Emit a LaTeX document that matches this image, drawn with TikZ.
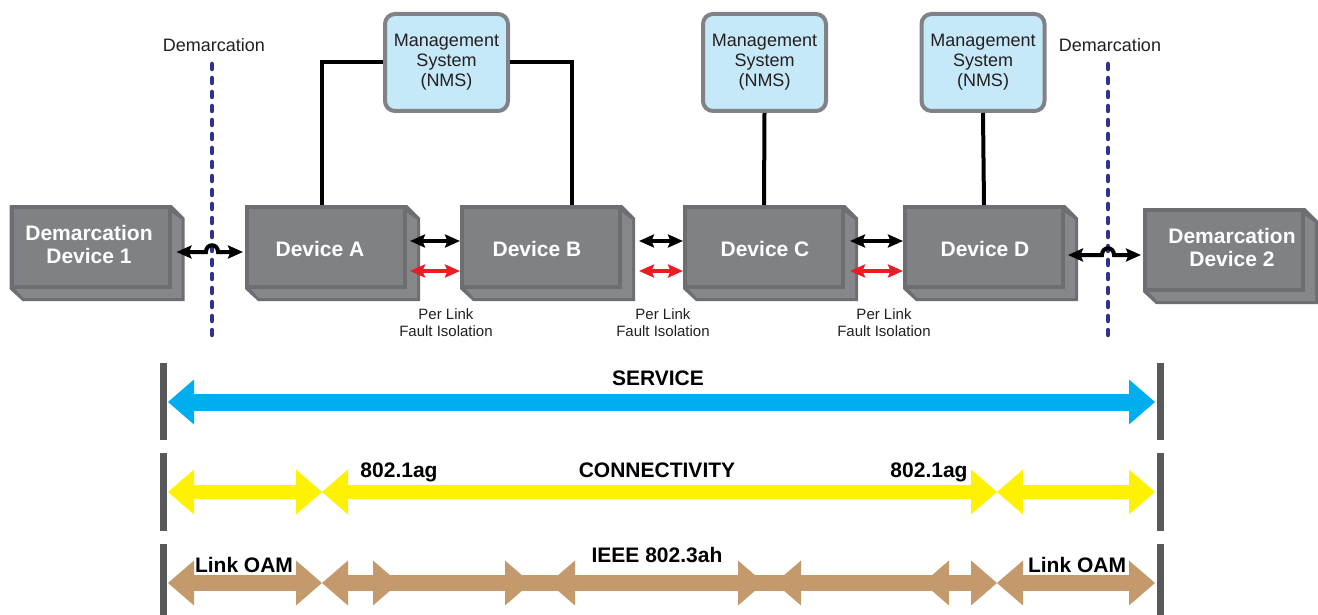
\documentclass[tikz,border=0pt]{standalone}
\usepackage{fontspec}
\setmainfont{Liberation Sans}
\usetikzlibrary{arrows.meta}
\definecolor{devedge}{HTML}{6D6E71}
\definecolor{devfill}{HTML}{808184}
\definecolor{devside}{HTML}{86878A}
\definecolor{nmsfill}{HTML}{C6E9F9}
\definecolor{nmsedge}{HTML}{808285}
\definecolor{demblue}{HTML}{2E3192}
\definecolor{arrred}{HTML}{ED1C24}
\definecolor{svcblue}{HTML}{00AEEF}
\definecolor{conyellow}{HTML}{FFF200}
\definecolor{oambrown}{HTML}{C49A6C}
\definecolor{bargray}{HTML}{58595B}
\definecolor{txtc}{HTML}{231F20}

\newcommand\devbox[2]{%
  \fill[devedge,shift={#2}] (-81,-42) -- (81,-42) -- (94,-29) -- (94,54) -- (-68,54) -- (-81,42) -- cycle;
  \fill[devside,shift={#2}] (79,-36) -- (91,-27) -- (91,51) -- (-67,51) -- (-77,40) -- (79,40) -- cycle;
  \node[devfront] (#1) at #2 {};}
\newcommand\fatheadL[3]{\fill[#3] (#1,#2) -- ++(26,-22.5) -- ++(0,45) -- cycle;}
\newcommand\fatheadR[3]{\fill[#3] (#1,#2) -- ++(-26,-22.5) -- ++(0,45) -- cycle;}
\newcommand\fatshaft[5]{\fill[#5] (#1,{#3-#4}) rectangle (#2,{#3+#4});}

\begin{document}
\begin{tikzpicture}[x=1pt,y=-1pt,
  devfront/.style={draw=devedge,line width=4pt,fill=devfill,minimum width=158pt,minimum height=80pt,inner sep=0pt},
  devlabel/.style={font=\fontsize{21}{23}\selectfont\bfseries,text=white,align=center,inner sep=0pt},
  nmsbox/.style={draw=nmsedge,line width=4pt,fill=nmsfill,rounded corners=10pt,minimum width=123pt,minimum height=97pt,align=center,inner sep=0pt,font=\fontsize{18}{20}\selectfont,text=txtc},
  demlabel/.style={font=\fontsize{18}{20}\selectfont,text=txtc,inner sep=0pt},
  linklabel/.style={font=\fontsize{15}{17}\selectfont,text=txtc,align=center,inner sep=0pt},
  barlabel/.style={font=\fontsize{21}{23}\selectfont\bfseries,text=black,inner sep=0pt},
  demline/.style={demblue,line width=4.5pt,line cap=round,dash pattern=on 5pt off 9pt},
  nmsline/.style={black,line width=4pt},
  linkarrow/.style={line width=4pt,{Stealth[length=15pt,width=13pt,inset=2.5pt]}-{Stealth[length=15pt,width=13pt,inset=2.5pt]}},
]
\useasboundingbox (0,0) rectangle (1318,615);

% demarcation lines
\coordinate (dl1t) at (212,64);
\coordinate (dl1b) at (212,340);
\coordinate (dl2t) at (1108,64);
\coordinate (dl2b) at (1108,340);
\draw[demline] (dl1t) -- (dl1b);
\draw[demline] (dl2t) -- (dl2b);
\node[demlabel] (dlab1) at (214,45) {Demarcation};
\node[demlabel] (dlab2) at (1110,45) {Demarcation};

% devices
\devbox{dem1}{(90.5,247)}
\devbox{devA}{(326,247)}
\devbox{devB}{(541,247)}
\devbox{devC}{(764,247)}
\devbox{devD}{(984,247)}
\devbox{dem2}{(1224,250)}

\node[devlabel] (dem1t) at (89,244.5) {Demarcation\\Device 1};
\node[devlabel] (devAt) at (320,249) {Device A};
\node[devlabel] (devBt) at (537,249) {Device B};
\node[devlabel] (devCt) at (765,249) {Device C};
\node[devlabel] (devDt) at (985,249) {Device D};
\node[devlabel] (dem2t) at (1232,247) {Demarcation\\Device 2};

% management systems
\node[nmsbox] (nms1) at (446.5,62.5) {Management\\System\\(NMS)};
\node[nmsbox] (nms2) at (764.5,62.5) {Management\\System\\(NMS)};
\node[nmsbox] (nms3) at (983,62.5) {Management\\System\\(NMS)};

\draw[nmsline] (nms1.west) -| ([xshift=-4pt]devA.north);
\draw[nmsline] (nms1.east) -| ([xshift=31pt]devB.north);
\draw[nmsline] (nms2.south) -- (devC.north);
\draw[nmsline] (nms3.south) -- (devD.north);

% link arrows
\draw[linkarrow] ([xshift=3pt,yshift=6pt]devA.east) -- ([yshift=6pt]devB.west);
\draw[linkarrow,arrred] ([xshift=3pt,yshift=-24pt]devA.east) -- ([yshift=-24pt]devB.west);
\draw[linkarrow] ([xshift=17pt,yshift=6pt]devB.east) -- ([yshift=6pt]devC.west);
\draw[linkarrow,arrred] ([xshift=17pt,yshift=-24pt]devB.east) -- ([yshift=-24pt]devC.west);
\draw[linkarrow] ([xshift=5pt,yshift=6pt]devC.east) -- ([yshift=6pt]devD.west);
\draw[linkarrow,arrred] ([xshift=5pt,yshift=-24pt]devC.east) -- ([yshift=-24pt]devD.west);

\coordinate (hop1) at (212,252);
\coordinate (hop2) at (1108,255);
\draw[linkarrow] ([xshift=5pt]dem1.east |- hop1) -- ([xshift=-6pt]hop1) .. controls +(0,-9) and +(0,-9) .. ([xshift=6pt]hop1) -- ([xshift=-2pt]devA.west |- hop1);
\draw[linkarrow] ([xshift=3pt]devD.east |- hop2) -- ([xshift=-6pt]hop2) .. controls +(0,-9) and +(0,-9) .. ([xshift=6pt]hop2) -- ([xshift=-2pt]dem2.west |- hop2);

\node[linklabel] (pl1) at (446,322.5) {Per Link\\Fault Isolation};
\node[linklabel] (pl2) at (663,322.5) {Per Link\\Fault Isolation};
\node[linklabel] (pl3) at (884,322.5) {Per Link\\Fault Isolation};

% end bars
\fill[bargray] (160,363) rectangle (167,440);
\fill[bargray] (160,453) rectangle (167,531);
\fill[bargray] (160,544) rectangle (167,615);
\fill[bargray] (1157,363) rectangle (1164,440);
\fill[bargray] (1157,453) rectangle (1164,531);
\fill[bargray] (1157,544) rectangle (1164,615);

% service
\fatshaft{185}{1140}{402}{8.5}{svcblue}
\fatheadL{168}{402}{svcblue}
\fatheadR{1155}{402}{svcblue}

% connectivity
\fatshaft{185}{305}{492}{7}{conyellow}
\fatshaft{340}{980}{492}{7}{conyellow}
\fatshaft{1015}{1140}{492}{7}{conyellow}
\fatheadL{168}{492}{conyellow}
\fatheadR{322}{492}{conyellow}
\fatheadL{322}{492}{conyellow}
\fatheadR{997}{492}{conyellow}
\fatheadL{997}{492}{conyellow}
\fatheadR{1155}{492}{conyellow}

% link oam
\fatshaft{185}{305}{583}{8}{oambrown}
\fatshaft{340}{980}{583}{8}{oambrown}
\fatshaft{1015}{1140}{583}{8}{oambrown}
\fatheadL{168}{583}{oambrown}
\fatheadR{322}{583}{oambrown}
\fatheadL{322}{583}{oambrown}
\fatheadR{399}{583}{oambrown}
\fatheadR{531}{583}{oambrown}
\fatheadL{549}{583}{oambrown}
\fatheadR{764}{583}{oambrown}
\fatheadL{775}{583}{oambrown}
\fatheadL{923}{583}{oambrown}
\fatheadR{997}{583}{oambrown}
\fatheadL{997}{583}{oambrown}
\fatheadR{1155}{583}{oambrown}

\node[barlabel] (svc) at (658,378) {SERVICE};
\node[barlabel] (ag1) at (399,472) {802.1ag};
\node[barlabel] (conn) at (657,470) {CONNECTIVITY};
\node[barlabel] (ag2) at (929,472) {802.1ag};
\node[barlabel] (ieee) at (657,555) {IEEE 802.3ah};
\node[barlabel] (oam1) at (244,565) {Link OAM};
\node[barlabel] (oam2) at (1077,565) {Link OAM};
\end{tikzpicture}
\end{document}
